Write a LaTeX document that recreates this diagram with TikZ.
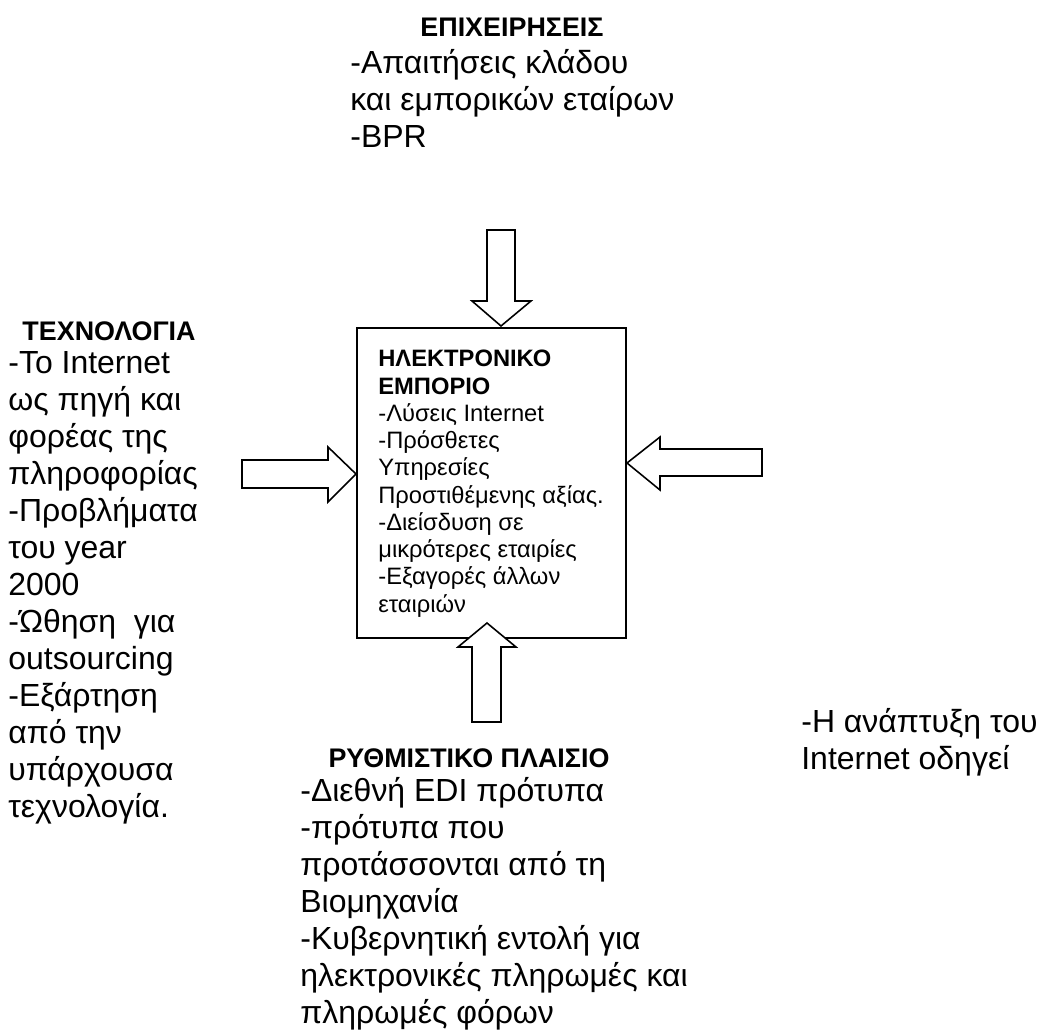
\documentclass[tikz,border=0pt]{standalone}
\usepackage{fontspec}
\setmainfont{Liberation Sans}

\begin{document}
\begin{tikzpicture}[
    x=0.02cm,
    y=-0.02cm,
    headtext/.style={
        font=\fontsize{15.3}{17}\selectfont\bfseries,
        inner sep=0pt,
        anchor=base
    },
    bodytext/.style={
        font=\fontsize{18.2}{21.05}\selectfont,
        align=left,
        inner sep=0pt,
        anchor=base west
    },
    mainbox/.style={
        draw,
        line width=0.9pt,
        minimum width=5.38cm,
        minimum height=6.2cm,
        inner sep=0pt
    },
    boxtext/.style={
        font=\fontsize{13.5}{15.5}\selectfont,
        align=left,
        inner sep=0pt,
        anchor=base west
    },
    fatarrow/.style={
        draw,
        line width=0.9pt,
        fill=white,
        line join=miter
    }
]

\useasboundingbox (0,0) rectangle (1039,1031);

% Central box (text anchored at its last line)
\node[mainbox] (ecom) at (491.5,483) {};
\node[boxtext] (ecomtext) at (378,612) {\textbf{ΗΛΕΚΤΡΟΝΙΚΟ}\\
\textbf{ΕΜΠΟΡΙΟ}\\
-Λύσεις Internet\\
-Πρόσθετες\\
Υπηρεσίες\\
Προστιθέμενης αξίας.\\
-Διείσδυση σε\\
μικρότερες εταιρίες\\
-Εξαγορές άλλων\\
εταιριών};

% Top: business
\node[headtext] (busyhead) at (512,36) {ΕΠΙΧΕΙΡΗΣΕΙΣ};
\node[bodytext] (busy) at (350,147) {-Απαιτήσεις κλάδου\\
και εμπορικών εταίρων\\
-BPR};

% Left: technology
\node[headtext] (techhead) at (109,340) {ΤΕΧΝΟΛΟΓΙΑ};
\node[bodytext] (tech) at (8,817) {-Το Internet\\
ως πηγή και\\
φορέας της\\
πληροφορίας\\
-Προβλήματα\\
του year\\
2000\\
-Ώθηση~ για\\
outsourcing\\
-Εξάρτηση\\
από την\\
υπάρχουσα\\
τεχνολογία.};

% Bottom: regulation
\node[headtext] (regulhead) at (469,767) {ΡΥΘΜΙΣΤΙΚΟ ΠΛΑΙΣΙΟ};
\node[bodytext] (regul) at (300,1023) {-Διεθνή EDI πρότυπα\\
-πρότυπα που\\
προτάσσονται από τη\\
Βιομηχανία\\
-Κυβερνητική εντολή για\\
ηλεκτρονικές πληρωμές και\\
πληρωμές φόρων};

% Right: market
\node[bodytext] (market) at (801,769) {-Η ανάπτυξη του\\
Internet οδηγεί};

% Block arrows into the box
\draw[fatarrow] (487,230) -- (515,230) -- (515,301) -- (531,301)
    -- (501,326) -- (472,301) -- (487,301) -- cycle;
\draw[fatarrow] (242,460) -- (328,460) -- (328,447) -- (356,474)
    -- (328,502) -- (328,488) -- (242,488) -- cycle;
\draw[fatarrow] (762,449) -- (660,449) -- (660,437) -- (627,463)
    -- (660,490) -- (660,476) -- (762,476) -- cycle;
\draw[fatarrow] (472,722) -- (472,647) -- (458,647) -- (487,623)
    -- (516,647) -- (501,647) -- (501,722) -- cycle;

\end{tikzpicture}
\end{document}
